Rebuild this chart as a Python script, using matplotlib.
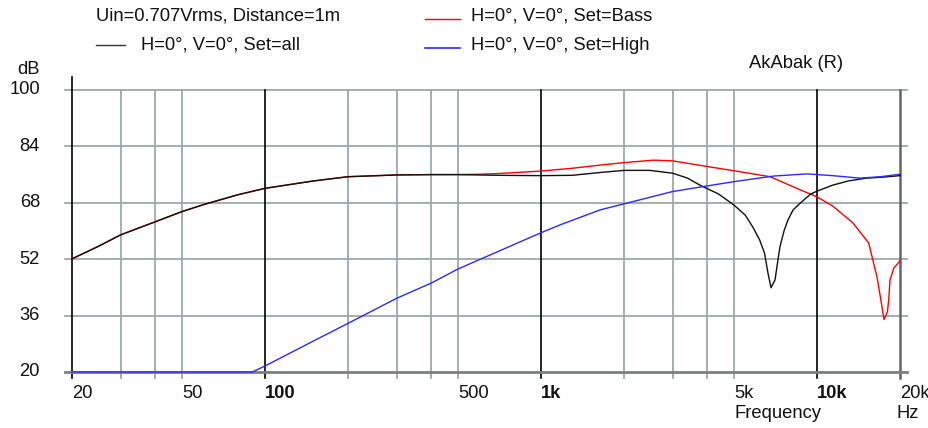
import matplotlib
matplotlib.use("Agg")
import matplotlib.pyplot as plt

plt.rcParams['font.family'] = ['Liberation Sans', 'DejaVu Sans']

# Frequency response data (Hz, dB)
f_all = [20, 25, 30, 40, 50, 60, 70, 80, 100, 150, 200, 300, 400, 500, 700,
         1000, 1300, 1640, 2000, 2480, 3000, 3400, 3770, 4400, 5000, 5500,
         5850, 6200, 6460, 6650, 6820, 7050, 7200, 7350, 7600, 7850, 8200,
         8700, 9500, 10000, 11400, 13000, 15100, 17500, 20000]
db_all = [52.1, 55.7, 58.9, 62.6, 65.5, 67.5, 69.0, 70.3, 72.1, 74.2, 75.4,
          75.9, 76.0, 76.0, 75.8, 75.7, 75.8, 76.6, 77.2, 77.2, 76.4, 75.0,
          73.0, 70.5, 67.4, 64.5, 61.2, 57.5, 53.7, 48.0, 43.9, 46.1, 51.0,
          55.6, 60.0, 63.1, 66.0, 67.9, 70.5, 71.3, 73.0, 74.2, 75.0, 75.3,
          75.7]

f_bass = [20, 25, 30, 40, 50, 60, 70, 80, 100, 150, 200, 300, 400, 500, 600,
          700, 1000, 1300, 1640, 2000, 2560, 3000, 4000, 5000, 6770, 7700,
          8500, 10000, 11400, 13500, 15400, 16500, 17000, 17500, 18000,
          18200, 18400, 19000, 20000]
db_bass = [52.1, 55.7, 58.9, 62.6, 65.5, 67.5, 69.0, 70.3, 72.1, 74.2, 75.4,
           75.9, 76.0, 76.0, 76.1, 76.3, 77.0, 77.8, 78.7, 79.4, 80.1, 79.9,
           78.3, 77.1, 75.4, 73.5, 72.0, 69.7, 67.1, 62.3, 56.6, 47.0, 41.0,
           34.9, 37.0, 40.4, 46.1, 49.5, 51.5]

f_high = [20, 90, 100, 150, 200, 300, 400, 500, 700, 1000, 1170, 1640, 2000,
          3000, 5000, 7000, 9200, 11400, 14300, 17000, 20000]
db_high = [20.0, 20.0, 21.7, 28.8, 33.8, 40.9, 45.2, 49.2, 54.2, 59.5, 61.7,
           66.0, 67.7, 71.2, 74.0, 75.6, 76.2, 75.7, 75.0, 75.4, 76.1]

y_ticks = [20, 36, 52, 68, 84, 100]
x_grid = [30, 40, 50, 200, 300, 400, 500, 2000, 3000, 4000, 5000]
x_decades = [100, 1000, 10000]
x_labels = {20: '20', 50: '50', 100: '100', 500: '500', 1000: '1k',
            5000: '5k', 10000: '10k', 20000: '20k'}
bold_labels = [100, 1000, 10000]

W, H = 929, 428
fig = plt.figure(figsize=(W / 100, H / 100), dpi=100)
ax = fig.add_axes([72 / W, 1 - 372 / H, 828 / W, 282 / H])
ax.set_xscale('log')
ax.set_xlim(20, 20000)
ax.set_ylim(20, 100)
for s in ax.spines.values():
    s.set_visible(False)
ax.set_xticks([])
ax.set_yticks([])
ax.minorticks_off()

grid_c = '#9ea8a8'
for y in y_ticks[1:]:
    ax.axhline(y, xmin=-0.009, xmax=1.0085, color=grid_c, lw=1.3,
               clip_on=False, zorder=1)
for x in x_grid:
    ax.axvline(x, ymin=-0.021, ymax=1.0, color=grid_c, lw=1.3,
               clip_on=False, zorder=1)
for x in x_decades:
    ax.axvline(x, ymin=-0.021, ymax=1.0, color='black', lw=1.2,
               clip_on=False, zorder=2)
ax.axvline(20, ymin=-0.021, ymax=1.046, color='black', lw=1.2,
           clip_on=False, zorder=2)
ax.axvline(20000, ymin=-0.021, ymax=1.0, color='#606666', lw=1.8,
           clip_on=False, zorder=2)
ax.axhline(20, xmin=-0.009, xmax=1.0085, color='#7a7f7f', lw=2.0,
           clip_on=False, zorder=2)

ax.plot(f_bass, db_bass, color='#ff0000', lw=1.0, zorder=4, clip_on=False)
ax.plot(f_all, db_all, color='#101010', lw=1.0, zorder=5, clip_on=False)
ax.plot(f_high, db_high, color='#2a2aff', lw=1.0, zorder=6, clip_on=False)

fs = 13.2
txt_c = '#111111'


def px(x, y):
    return x / W, 1 - y / H


# y tick labels, right edge at x=40 px
for y in y_ticks:
    ax.text(40 / W, ax.transAxes.transform((0, (y - 20) / 80))[1] / H,
            str(y), transform=fig.transFigure,
            ha='right', va='center', fontsize=fs, color=txt_c)
# x tick labels, left-aligned at their tick
for x, lab in x_labels.items():
    ax.text(x, 1 - 394 / H, lab,
            transform=ax.get_xaxis_transform().__class__(ax.transData,
                                                         fig.transFigure),
            ha='left', va='center', fontsize=fs, color=txt_c,
            fontweight='bold' if x in bold_labels else 'normal')

fig.text(*px(96, 16), 'Uin=0.707Vrms, Distance=1m', fontsize=fs,
         va='center', ha='left', color=txt_c)
fig.text(*px(141, 45), 'H=0°, V=0°, Set=all', fontsize=fs,
         va='center', ha='left', color=txt_c)
fig.text(*px(471, 16), 'H=0°, V=0°, Set=Bass', fontsize=fs,
         va='center', ha='left', color=txt_c)
fig.text(*px(471, 45), 'H=0°, V=0°, Set=High', fontsize=fs,
         va='center', ha='left', color=txt_c)
fig.add_artist(plt.Line2D([96 / W, 125 / W], [1 - 45 / H] * 2,
                          color='#333333', lw=1.0))
fig.add_artist(plt.Line2D([425 / W, 460 / W], [1 - 19 / H] * 2,
                          color='#ff0000', lw=1.0))
fig.add_artist(plt.Line2D([425 / W, 460 / W], [1 - 47.5 / H] * 2,
                          color='#2a2aff', lw=1.2))
fig.text(*px(749, 63), 'AkAbak (R)', fontsize=fs, va='center', ha='left',
         color=txt_c)
fig.text(*px(40, 70), 'dB', fontsize=fs, va='center', ha='right',
         color=txt_c)
fig.text(*px(735, 413), 'Frequency', fontsize=fs, va='center', ha='left',
         color=txt_c)
fig.text(*px(897, 413), 'Hz', fontsize=fs, va='center', ha='left',
         color=txt_c)

fig.savefig('out.png', dpi=100, facecolor='white')
